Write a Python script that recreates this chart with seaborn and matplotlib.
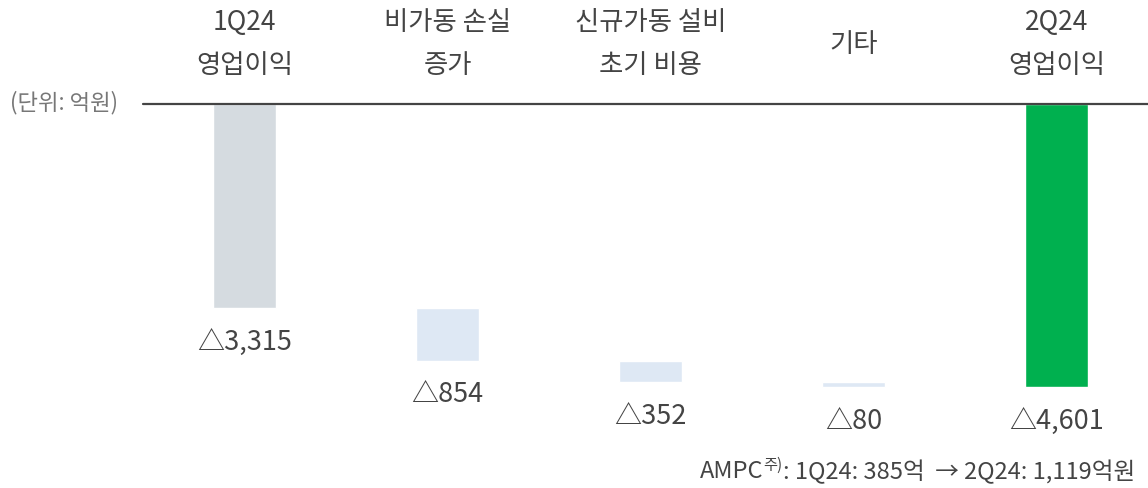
import matplotlib
matplotlib.use("Agg")
import matplotlib.pyplot as plt
import seaborn as sns
import pandas as pd

categories = ["1Q24\n영업이익", "비가동 손실\n증가", "신규가동 설비\n초기 비용", "기타", "2Q24\n영업이익"]
deltas = [-3315, -854, -352, -80, -4601]
labels = ["△3,315", "△854", "△352", "△80", "△4,601"]
colors = ["#D5DBE0", "#DEE8F4", "#DEE8F4", "#DEE8F4", "#00B04F"]

sns.set_theme(style="white")
plt.rcParams["font.family"] = ["Noto Sans CJK KR", "DejaVu Sans"]
txt = "#444444"

# waterfall starts: first and last bars hang from zero
starts = [0]
for d in deltas[:-2]:
    starts.append(starts[-1] + d)
starts.append(0)

df = pd.DataFrame({"cat": categories, "val": deltas})

fig = plt.figure(figsize=(11.48, 4.89), dpi=100)
ax = fig.add_axes([143 / 1148, 37 / 489, 1 - 143 / 1148, 347 / 489])
sns.barplot(data=df, x="cat", y="val", hue="cat", palette=colors,
            width=0.31, legend=False, ax=ax, saturation=1)

for p, s in zip(ax.patches, starts):
    p.set_y(s)

ax.set_xlim(-0.5, 4.45)
ax.set_ylim(-5639, 0)
ax.axhline(0, color="#444444", lw=1.6, zorder=5, clip_on=False)

for i, (s, d, lab) in enumerate(zip(starts, deltas, labels)):
    ax.annotate(lab, (i, s + d), xytext=(0, -24), textcoords="offset points",
                ha="center", va="center", fontsize=19.5, color=txt)

for i, c in enumerate(categories):
    ax.text(i, 1 + 61 / 347, c, transform=ax.get_xaxis_transform(),
            ha="center", va="center", fontsize=19, color=txt, linespacing=1.75)

fig.text(10 / 1148, 1 - 103 / 489, "(단위: 억원)", ha="left", va="center",
         fontsize=16, color="#777777")

# footnote with superscript
r = fig.canvas.get_renderer()
t1 = fig.text(1135 / 1148, 1 - 472 / 489, ": 1Q24: 385억  → 2Q24: 1,119억원",
              ha="right", va="center", fontsize=17, color=txt)
bb = t1.get_window_extent(r)
t2 = fig.text(bb.x0 / 1148, 1 - 465 / 489, "주)", ha="right", va="center",
              fontsize=11, color=txt)
bb2 = t2.get_window_extent(r)
fig.text(bb2.x0 / 1148, 1 - 472 / 489, "AMPC", ha="right", va="center",
         fontsize=17, color=txt)

ax.set_xticks([])
ax.set_yticks([])
ax.set_xlabel("")
ax.set_ylabel("")
sns.despine(ax=ax, left=True, bottom=True)
ax.spines["top"].set_visible(False)

fig.savefig("out.png", dpi=100)
